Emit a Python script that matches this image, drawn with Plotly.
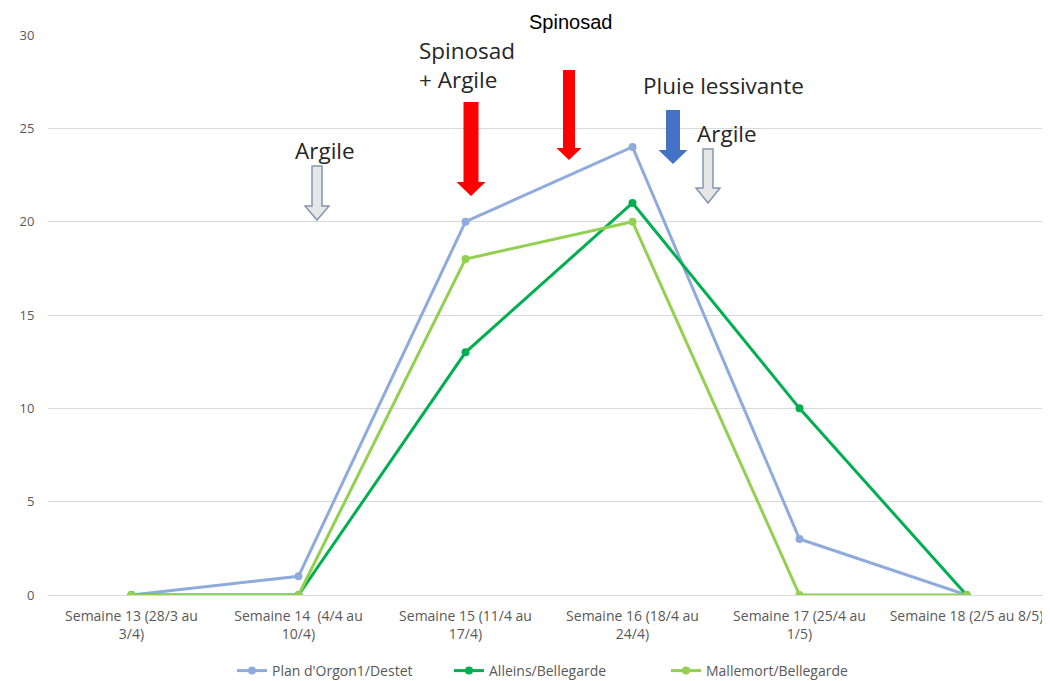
import plotly.graph_objects as go

categories = [
    "Semaine 13 (28/3 au<br>3/4)",
    "Semaine 14  (4/4 au<br>10/4)",
    "Semaine 15 (11/4 au<br>17/4)",
    "Semaine 16 (18/4 au<br>24/4)",
    "Semaine 17 (25/4 au<br>1/5)",
    "Semaine 18 (2/5 au 8/5)",
]
plan_orgon = [0, 1, 20, 24, 3, 0]
alleins = [0, 0, 13, 21, 10, 0]
mallemort = [0, 0, 18, 20, 0, 0]
series_names = ["Plan d'Orgon1/Destet", "Alleins/Bellegarde", "Mallemort/Bellegarde"]
series_colors = ["#8FAADC", "#00B050", "#92D050"]
y_ticks = [0, 5, 10, 15, 20, 25, 30]

# window coords of plot area: x 48..1050, y 35..595 ; page has 8px body margin
OFF = 8
W, H = 1050 - OFF, 681
L, R, T = 48 - OFF, 0, 35 - OFF
B = H - (595 - OFF)
PW, PH = 1002, 560


def px(x):
    return (x - 48) / PW


def py(y):
    return (595 - y) / PH


fig = go.Figure()
for name, vals, col in zip(series_names, [plan_orgon, alleins, mallemort], series_colors):
    fig.add_trace(go.Scatter(
        x=categories, y=vals, name=name, mode="lines+markers",
        line=dict(color=col, width=3), marker=dict(color=col, size=8),
    ))


def arrow(cx, top, yh, tip, sw, hw, fill, line_color, lw):
    pts = [(cx - sw, top), (cx + sw, top), (cx + sw, yh), (cx + hw, yh),
           (cx, tip), (cx - hw, yh), (cx - sw, yh)]
    path = "M " + " L ".join(f"{px(a):.5f},{py(b):.5f}" for a, b in pts) + " Z"
    fig.add_shape(type="path", path=path, xref="paper", yref="paper",
                  fillcolor=fill, line=dict(color=line_color, width=lw), layer="above")


arrow(317, 166, 206, 220, 5, 12, "#E7E6E6", "#8497B0", 1.5)
arrow(471, 102, 182, 196, 7.5, 14.5, "#FF0000", "#FF0000", 0)
arrow(569, 70, 148, 160, 6, 12.5, "#FF0000", "#FF0000", 0)
arrow(673, 110, 150, 164, 7, 14.5, "#4472C4", "#4472C4", 0)
arrow(708, 149, 188, 203, 5, 12, "#E7E6E6", "#8497B0", 1.5)

ann_font = dict(family="Open Sans, Lato, sans-serif", size=22.5, color="#262626")


def label(text, x, y, xanchor="center", align="center", font=ann_font):
    fig.add_annotation(text=text, x=px(x), y=py(y), xref="paper", yref="paper",
                       xanchor=xanchor, yanchor="middle", align=align,
                       showarrow=False, font=font)


label("Spinosad", 570, 22, font=dict(family="Liberation Sans, Arial, sans-serif", size=20, color="#000000"))
label("Spinosad<br>+ Argile", 417, 65, xanchor="left", align="left")
label("Argile", 325, 150)
label("Pluie lessivante", 723, 85)
label("Argile", 727, 133)

fig.update_layout(
    width=W, height=H,
    margin=dict(l=L, r=R, t=T, b=B, autoexpand=False),
    plot_bgcolor="white", paper_bgcolor="white",
    font=dict(family="Open Sans, Lato, sans-serif", color="#595959"),
    showlegend=True,
    legend=dict(orientation="h", x=px(232), xanchor="left", y=py(671), yanchor="middle",
                font=dict(size=14, color="#595959"), traceorder="normal",
                entrywidth=172, entrywidthmode="pixels"),
    xaxis=dict(showgrid=False, showline=True, linecolor="#D9D9D9", linewidth=1,
               tickfont=dict(size=14, color="#595959"), ticks="outside", ticklen=8,
               tickcolor="white", range=[-0.5, 5.5]),
    yaxis=dict(range=[0, 30], tickvals=y_ticks, showgrid=True, gridcolor="#D9D9D9",
               gridwidth=1, zeroline=False, ticks="outside", ticklen=10, tickcolor="white",
               tickfont=dict(size=13, color="#595959")),
)

fig.write_html("out.html")
